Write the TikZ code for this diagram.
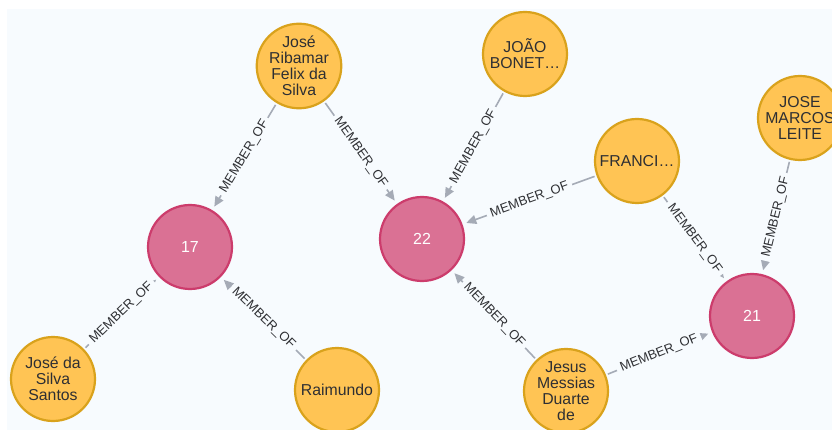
\documentclass[tikz,border=0pt]{standalone}
\usepackage{fontspec}
\setmainfont{Liberation Sans}
\usetikzlibrary{arrows.meta}
\definecolor{panel}{HTML}{F7FBFE}
\definecolor{persfill}{HTML}{FFC454}
\definecolor{persline}{HTML}{D9A21C}
\definecolor{grpfill}{HTML}{DA7194}
\definecolor{grpline}{HTML}{CC3C6C}
\definecolor{edgegray}{HTML}{A5ABB6}
\definecolor{inkgray}{HTML}{2E2F33}
\begin{document}
\begin{tikzpicture}[x=1pt,y=-1pt,
  person/.style={circle, draw=persline, fill=persfill, line width=2.2pt,
    minimum size=84pt, inner sep=0pt, text=inkgray, align=center,
    font=\fontsize{15.8}{16}\selectfont},
  group/.style={circle, draw=grpline, fill=grpfill, line width=2.2pt,
    minimum size=84pt, inner sep=0pt, text=white,
    font=\fontsize{16}{16}\selectfont},
  rel/.style={draw=edgegray, line width=1.6pt,
    -{Triangle[length=10pt,width=9pt]}, shorten >=4pt, shorten <=2pt},
  rellabel/.style={midway, sloped, fill=panel, inner xsep=4pt, inner ysep=0pt,
    text=inkgray, font=\fontsize{13}{13}\selectfont}]
\useasboundingbox (0,0) rectangle (832,430);
\fill[white] (0,0) rectangle (832,430);
\fill[panel] (7,9) rectangle (832,430);
\clip (7,9) rectangle (832,430);

% group nodes
\node[group] (n17) at (190,247) {17};
\node[group] (n22) at (422,239) {22};
\node[group] (n21) at (752,316) {21};

% person nodes
\node[person] (rib)    at (299,66)  {José\\Ribamar\\Felix da\\Silva};
\node[person] (joao)   at (525,54)  {JOÃO\\BONET…};
\node[person] (fran)   at (637,161) {FRANCI…};
\node[person] (jml)    at (800,118) {JOSE\\MARCOS\\LEITE};
\node[person] (santos) at (53,379)  {José da\\Silva\\Santos};
\node[person] (raim)   at (337,390) {Raimundo};
\node[person] (jesus)  at (566,391) {Jesus\\Messias\\Duarte\\de};

% memberships
\draw[rel] (rib)    -- (n17) node[rellabel] {MEMBER\_OF};
\draw[rel] (rib)    -- (n22) node[rellabel] {MEMBER\_OF};
\draw[rel] (joao)   -- (n22) node[rellabel] {MEMBER\_OF};
\draw[rel] (fran)   -- (n22) node[rellabel] {MEMBER\_OF};
\draw[rel] (fran)   -- (n21) node[rellabel] {MEMBER\_OF};
\draw[rel] (jml)    -- (n21) node[rellabel] {MEMBER\_OF};
\draw[rel] (jesus)  -- (n22) node[rellabel] {MEMBER\_OF};
\draw[rel] (jesus)  -- (n21) node[rellabel] {MEMBER\_OF};
\draw[rel] (santos) -- (n17) node[rellabel] {MEMBER\_OF};
\draw[rel] (raim)   -- (n17) node[rellabel] {MEMBER\_OF};
\end{tikzpicture}
\end{document}
